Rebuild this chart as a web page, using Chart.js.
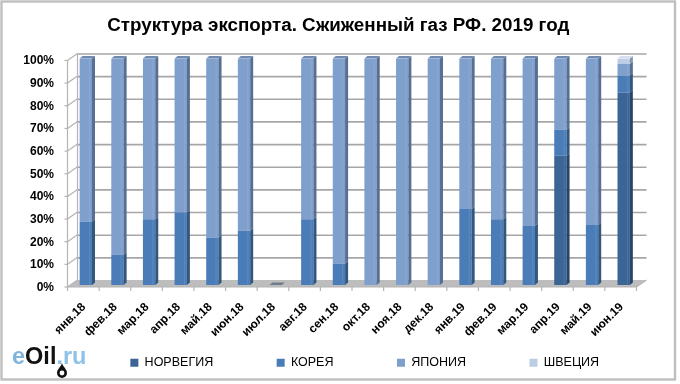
<!DOCTYPE html>
<html><head><meta charset="utf-8">
<style>html,body{margin:0;padding:0;background:#fff}#w{position:relative;width:680px;height:384px}</style>
<script src="https://cdn.jsdelivr.net/npm/chart.js@4"></script></head>
<body><div id="w"><canvas id="c" width="680" height="384"></canvas></div>
<script>
const titleText='Структура экспорта. Сжиженный газ РФ. 2019 год';
const categories=['янв.18','фев.18','мар.18','апр.18','май.18','июн.18','июл.18','авг.18','сен.18','окт.18','ноя.18','дек.18','янв.19','фев.19','мар.19','апр.19','май.19','июн.19'];
const norway=[0,0,0,0,0,0,0,0,0,0,0,0,0,0,0,57,0,85];
const korea=[28,13.5,29,32,21,24,0,29,9.5,0,0,0,33.5,29,26,11.5,26.5,7.5];
const japan=[72,86.5,71,68,79,76,0,71,90.5,100,100,100,66.5,71,74,31.5,73.5,5];
const sweden=[0,0,0,0,0,0,0,0,0,0,0,0,0,0,0,0,0,2.5];
const yTicks=[0,10,20,30,40,50,60,70,80,90,100];
const seriesNames=['НОРВЕГИЯ','КОРЕЯ','ЯПОНИЯ','ШВЕЦИЯ'];
const faceColors=['#3A6595','#4A7DB8','#7F9FCD','#BCCDE6'];
const sideColors=['#26456B','#33577F','#566F92','#8494AD'];
const topColors=['#3A6595','#4A7DB8','#6F8AB0','#D5DEEC'];
const DX=10,DY=-7,BX=3,BY=-2.5;
const FRONT_SHIFT_X=-2.5,FRONT_SHIFT_Y=2;
const walls={id:'walls',
 beforeLayout(ch){
  const lg=ch.legend;
  if(lg&&!lg._wrapped){const f=lg.fit.bind(lg);lg.fit=function(){f();this.height=39;};lg._wrapped=true;}
 },
 afterLayout(ch){
  const lg=ch.legend;lg.left+=45;lg.right+=45;lg.top=293;
  const t=ch.titleBlock;t.left+=18.5;t.right+=18.5;
 },
 beforeDatasetsDraw(ch){
  const c=ch.ctx,y=ch.scales.y,x=ch.scales.x;
  const L=x.left+FRONT_SHIFT_X,R=x.right+FRONT_SHIFT_X-0.5;
  const Yp=v=>y.getPixelForValue(v)+FRONT_SHIFT_Y;
  c.save();
  c.fillStyle='#BDBDBD';c.beginPath();c.moveTo(L,Yp(0));c.lineTo(L+DX,Yp(0)+DY);c.lineTo(R+DX,Yp(0)+DY);c.lineTo(R,Yp(0));c.closePath();c.fill();
  c.strokeStyle='#A6A6A6';c.lineWidth=1.6;
  yTicks.forEach(v=>{if(v===0)return;const p=y.getPixelForValue(v)-4.5;c.beginPath();c.moveTo(L+DX,p);c.lineTo(R+DX,p);c.stroke();});
  c.strokeStyle='#B4B4B4';c.lineWidth=1.2;
  yTicks.forEach(v=>{c.beginPath();c.moveTo(L,Yp(v));c.lineTo(L+DX,Yp(v)+DY);c.stroke();c.beginPath();c.moveTo(L,Yp(v));c.lineTo(L-3,Yp(v));c.stroke();});
  c.beginPath();c.moveTo(L+DX,Yp(100)+DY);c.lineTo(L+DX,Yp(0)+DY);c.stroke();
  c.beginPath();c.moveTo(L,Yp(100));c.lineTo(L,Yp(0));c.lineTo(R,Yp(0));c.lineTo(R+DX,Yp(0)+DY);c.stroke();
  categories.forEach((_,i)=>{const t=L+(R-L)*i/categories.length;c.beginPath();c.moveTo(t,Yp(0));c.lineTo(t,Yp(0)+4);c.stroke();});
  c.beginPath();c.moveTo(R,Yp(0));c.lineTo(R,Yp(0)+4);c.stroke();
  c.restore();
 },
 afterDatasetsDraw(ch){
  const c=ch.ctx,n=categories.length;
  c.save();
  for(let i=0;i<n;i++){
   let topD=-1;
   ch.data.datasets.forEach((d,di)=>{
    const el=ch.getDatasetMeta(di).data[i],h=d.data[i];
    if(h>0){
     const l=el.x-el.width/2,r=el.x+el.width/2,t=el.y,b=el.base;
     c.fillStyle=sideColors[di];c.beginPath();c.moveTo(r,b);c.lineTo(r+BX,b+BY);c.lineTo(r+BX,t+BY);c.lineTo(r,t);c.closePath();c.fill();
     const g=c.createLinearGradient(l,0,r,0);
     g.addColorStop(0,'rgba(255,255,255,0)');g.addColorStop(.72,'rgba(255,255,255,0)');g.addColorStop(.8,'rgba(255,255,255,.09)');g.addColorStop(.9,'rgba(255,255,255,0)');g.addColorStop(1,'rgba(0,0,0,.05)');
     c.fillStyle=g;c.fillRect(l,t,r-l,b-t);
     topD=di;
    }
   });
   const el=ch.getDatasetMeta(topD<0?0:topD).data[i];
   const l=el.x-el.width/2,r=el.x+el.width/2,t=el.y;
   c.fillStyle=topD<0?'#6F7C8C':topColors[topD];
   c.beginPath();c.moveTo(l,t);c.lineTo(l+BX,t+BY);c.lineTo(r+BX,t+BY);c.lineTo(r,t);c.closePath();c.fill();
  }
  c.restore();
 },
 afterDraw(ch){
  const c=ch.ctx;c.save();
  c.strokeStyle='#BFBFBF';c.lineWidth=2.4;c.strokeRect(1.5,1.5,673.5,378);
  c.textBaseline='alphabetic';c.font='bold 23.5px "Liberation Sans"';c.filter='blur(0.5px)';
  const parts=[['e','#7FB4DC'],['Oil','#111111'],['.ru','#8FC2E8']];let px=12;
  parts.forEach(p=>{c.fillStyle=p[1];c.fillText(p[0],px,364);px+=c.measureText(p[0]).width;});
  c.fillStyle='#111';c.beginPath();c.moveTo(62,363);c.bezierCurveTo(63,367,67,369,67,373);c.arc(62,373,5,0,Math.PI);c.bezierCurveTo(57,369,61,367,62,363);c.fill();
  c.fillStyle='#fff';c.beginPath();c.arc(62,373,2.4,0,7);c.fill();
  c.restore();
 }
};
new Chart(document.getElementById('c'),{type:'bar',
 data:{labels:categories,datasets:[norway,korea,japan,sweden].map((d,i)=>({label:seriesNames[i],data:d,backgroundColor:faceColors[i],barPercentage:.39,categoryPercentage:1}))},
 options:{responsive:false,animation:false,
  layout:{padding:{left:0,right:40.5,top:0,bottom:0}},
  scales:{
   x:{stacked:true,grid:{display:false},border:{display:false},
      afterFit(s){s.height=60},
      ticks:{autoSkip:false,maxRotation:45,minRotation:45,color:'#000',labelOffset:-2,font:{family:'"Liberation Sans"',size:12,weight:'bold'},padding:7}},
   y:{stacked:true,min:0,max:100,grid:{display:false},border:{display:false},
      afterFit(s){s.width=70},
      afterBuildTicks(s){s.ticks=yTicks.map(v=>({value:v}))},
      ticks:{autoSkip:false,callback:v=>v+'%',color:'#000',font:{family:'"Liberation Sans"',size:12,weight:'bold'},padding:8,labelOffset:2.5}}
  },
  plugins:{
   title:{display:true,text:titleText,color:'#000',font:{family:'"Liberation Sans"',size:18.8,weight:'bold'},padding:{top:15,bottom:20.9}},
   legend:{position:'bottom',labels:{boxWidth:8,boxHeight:8,padding:63.5,color:'#000',font:{family:'"Liberation Sans"',size:12.5}}},
   tooltip:{enabled:false}
  }
 },plugins:[walls]});
</script></body></html>
